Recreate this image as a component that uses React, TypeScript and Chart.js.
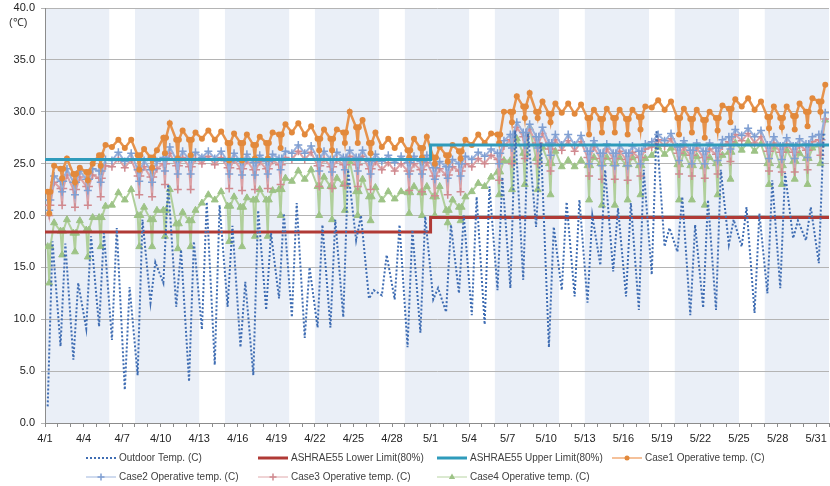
import { useEffect, useRef } from 'react';
import { Chart, registerables } from 'chart.js';
Chart.register(...registerables);

// ---- data (day 0 = 4/1) ----
const dateLabels = ['4/1','4/4','4/7','4/10','4/13','4/16','4/19','4/22','4/25','4/28','5/1','5/4','5/7','5/10','5/13','5/16','5/19','5/22','5/25','5/28','5/31'];
const totalDays = 61;
const weekendStarts = [5, 12, 19, 26, 33, 40, 47, 54];
const limitChangeDay = 30;
const lowerLimit = [18.4, 19.8];
const upperLimit = [25.4, 26.8];

const outMin = [1.6,7.4,6.1,9.1,9.3,8.0,3.2,4.6,11.6,13.5,11.2,4.0,9.0,5.6,11.2,7.3,4.6,10.9,12.0,10.2,8.2,9.2,9.2,10.2,17.6,12.0,12.3,11.9,7.3,8.7,11.9,10.7,12.5,10.4,9.5,12.8,13.0,13.8,18.9,7.3,12.8,12.2,11.6,15.2,14.6,12.2,10.9,14.3,17.0,16.5,10.4,11.1,10.9,17.2,17.0,10.6,12.5,13.0,17.8,17.6,15.4];
const outMax = [17.5,17.3,13.5,18.0,18.3,18.8,13.1,19.6,15.5,23.0,16.7,17.5,21.3,21.0,19.0,13.6,20.5,18.3,20.2,21.2,15.0,19.1,19.6,24.4,20.0,12.8,16.2,19.1,18.6,19.9,13.0,19.1,20.0,21.8,22.8,23.7,28.2,27.9,27.0,18.9,21.3,21.5,20.0,24.4,20.7,21.2,24.4,28.2,18.8,21.8,19.1,21.5,24.4,19.6,20.8,20.2,23.4,24.1,19.5,20.8,28.0];

const c1Lo = [22.3,24.5,24.0,24.2,25.8,26.6,26.5,25.8,25.6,27.5,27.3,27.3,27.4,27.3,27.0,27.0,26.8,27.0,27.8,28.0,27.8,27.4,27.4,28.0,28.5,27.0,26.6,26.5,26.3,26.5,25.6,25.8,26.2,26.8,27.0,27.8,30.0,30.5,30.0,29.8,29.9,29.8,29.4,29.3,29.4,29.3,29.5,30.4,30.2,29.4,29.3,29.2,29.4,30.3,30.5,30.2,29.5,29.4,29.6,30.0,31.0];
const c1Hi = [24.8,25.5,24.6,25.0,26.8,27.3,27.3,26.4,26.3,28.9,28.2,28.0,28.2,28.1,27.9,27.8,27.6,28.0,28.8,28.9,28.6,28.3,28.3,30.0,29.2,28.0,27.4,27.3,27.4,27.6,26.6,26.8,27.3,27.8,27.9,30.0,31.5,31.8,31.0,30.8,30.8,30.7,30.2,30.3,30.2,30.2,30.5,31.1,31.0,30.3,30.2,30.0,30.6,31.2,31.3,31.0,30.5,30.5,30.8,31.3,32.6];
const c1Dip = [20.2,23.6,23.2,23.4,24.8,null,null,24.4,24.6,26.0,25.5,25.8,null,null,25.3,25.3,25.5,25.5,26.5,null,null,26.3,26.3,27.0,27.0,26.0,null,null,25.6,25.6,25.0,25.2,25.5,null,null,27.0,29.0,29.4,29.4,29.0,null,null,27.8,28.0,28.0,27.8,28.3,null,null,27.8,28.0,27.5,28.2,29.0,null,null,28.4,28.5,28.3,28.6,30.0];

const c2Lo = [21.5,23.3,23.2,23.5,24.3,25.3,25.2,24.4,24.4,25.6,25.4,25.4,25.6,25.5,25.2,25.2,25.1,25.2,25.5,26.0,26.0,25.5,25.4,25.6,25.6,25.2,25.2,25.1,25.1,25.2,24.6,24.7,25.0,25.4,25.7,26.0,27.8,28.0,27.6,27.0,26.8,26.8,26.2,26.0,26.0,26.0,26.2,27.1,27.2,26.6,26.3,26.2,26.5,27.6,27.7,27.6,26.8,26.7,26.7,26.9,27.8];
const c2Hi = [23.8,24.5,24.3,24.5,25.4,26.1,26.0,25.3,25.2,26.6,26.2,26.1,26.2,26.2,26.0,25.9,25.8,25.9,26.2,26.8,26.7,26.2,26.1,26.3,26.3,25.9,25.8,25.7,25.7,25.8,25.2,25.4,25.7,26.1,26.4,27.2,29.0,28.8,28.5,27.8,27.8,27.7,27.2,26.9,26.8,26.7,26.9,27.8,27.9,27.2,27.0,27.0,27.3,28.3,28.4,28.2,27.6,27.5,27.4,27.6,29.9];
const c2Dip = [20.5,22.3,22.0,22.4,23.2,null,null,23.3,23.2,24.3,24.0,24.0,null,null,24.0,23.9,23.9,24.0,24.4,null,null,24.3,24.2,24.4,24.3,24.0,null,null,24.0,24.0,23.5,23.6,23.8,null,null,25.0,26.5,26.8,26.5,25.8,null,null,25.0,24.8,24.8,24.8,25.0,null,null,25.3,25.0,25.0,25.3,26.4,null,null,25.5,25.4,25.5,25.6,27.0];

const c3Lo = [21.0,22.6,22.5,22.8,23.6,24.7,24.6,23.8,23.7,25.0,24.8,24.7,25.0,24.9,24.6,24.5,24.4,24.5,24.9,25.4,25.4,24.8,24.7,24.9,24.9,24.5,24.4,24.3,24.3,24.4,23.8,23.9,24.3,24.7,25.0,25.4,27.3,27.6,27.0,26.4,26.3,26.2,25.6,25.5,25.5,25.4,25.6,26.6,26.7,26.0,25.8,25.6,25.9,27.1,27.2,27.0,26.2,26.1,26.1,26.3,27.3];
const c3Hi = [23.2,23.9,23.7,23.9,24.8,25.5,25.4,24.7,24.5,26.0,25.6,25.5,25.7,25.6,25.4,25.3,25.2,25.3,25.6,26.2,26.1,25.5,25.4,25.7,25.7,25.2,25.1,25.0,25.0,25.1,24.5,24.7,25.0,25.5,25.8,26.7,28.5,28.3,27.9,27.3,27.2,27.1,26.6,26.4,26.2,26.1,26.4,27.3,27.4,26.6,26.5,26.4,26.7,27.8,27.9,27.6,27.0,26.9,26.8,27.1,29.3];
const c3Dip = [20.0,21.0,20.8,21.0,21.8,null,null,22.0,21.8,23.0,22.5,22.5,null,null,22.6,22.4,22.5,22.6,23.0,null,null,22.8,22.6,22.9,22.8,22.5,null,null,22.4,22.3,21.9,22.0,22.3,null,null,23.4,25.0,25.5,25.0,24.3,null,null,23.8,23.5,23.5,23.4,23.8,null,null,24.0,23.8,23.6,24.0,25.2,null,null,24.3,24.2,24.2,24.4,25.8];

const c4Lo = [17.0,18.5,18.3,18.6,19.8,21.0,21.5,20.0,19.6,20.5,19.2,19.5,21.2,21.5,20.9,20.8,21.5,21.5,22.5,23.3,23.5,22.8,22.8,23.0,22.3,21.8,21.5,21.6,22.2,22.2,21.8,20.5,20.8,22.3,22.8,24.2,25.3,26.0,25.5,25.0,24.7,24.7,24.8,25.0,25.0,24.9,24.8,25.8,25.9,24.9,24.8,24.7,25.0,26.1,26.3,26.2,25.0,24.8,25.2,25.5,26.8];
const c4Hi = [19.3,19.6,19.5,19.8,20.9,22.2,22.5,20.8,20.5,22.5,20.3,20.5,22.0,22.3,21.8,21.7,22.5,22.4,23.6,24.3,24.4,23.7,23.6,25.2,23.5,22.7,22.3,22.3,22.8,22.8,22.8,21.5,21.8,23.1,23.7,25.3,27.4,28.5,26.6,26.2,25.3,25.3,25.6,25.6,25.6,25.6,25.5,26.6,26.5,26.0,25.7,25.6,25.8,27.0,27.1,26.9,26.6,26.3,26.0,26.5,29.2];
const c4Dip = [13.5,16.2,16.5,16.0,17.0,null,null,17.0,17.0,18.0,16.8,17.0,null,null,17.5,17.0,18.0,18.0,20.0,null,null,20.0,19.6,20.5,20.0,19.5,null,null,20.2,20.0,20.0,19.3,19.5,null,null,22.0,22.5,23.0,22.5,22.0,null,null,21.5,21.0,21.0,21.5,22.0,null,null,21.5,21.5,21.0,22.0,23.5,null,null,23.0,23.0,23.5,23.0,25.0];

// sample hours within each day
const HOUR_MIN = 5, HOUR_MAX = 14;
const HOUR_LO = 5, HOUR_DIP = 8, HOUR_BACK = 10, HOUR_HI = 17;

function outdoorPoints() {
  const pts: { x: number; y: number }[] = [];
  for (let d = 0; d < outMin.length; d++) {
    pts.push({ x: d + HOUR_MIN / 24, y: outMin[d] });
    pts.push({ x: d + HOUR_MAX / 24, y: outMax[d] });
  }
  return pts;
}
function casePoints(lo: number[], hi: number[], dip: (number | null)[]) {
  const pts: { x: number; y: number }[] = [];
  for (let d = 0; d < lo.length; d++) {
    pts.push({ x: d + HOUR_LO / 24, y: lo[d] });
    if (dip[d] != null) {
      pts.push({ x: d + HOUR_DIP / 24, y: dip[d] as number });
      pts.push({ x: d + HOUR_BACK / 24, y: lo[d] });
    }
    pts.push({ x: d + HOUR_HI / 24, y: hi[d] });
  }
  return pts;
}
function limitPoints(vals: number[]) {
  return [
    { x: 0, y: vals[0] },
    { x: limitChangeDay, y: vals[0] },
    { x: limitChangeDay, y: vals[1] },
    { x: totalDays, y: vals[1] },
  ];
}

const FONT = '"Liberation Sans", Arial, sans-serif';

function drawMarker(ctx: CanvasRenderingContext2D, style: string, x: number, y: number, r: number, color: string) {
  ctx.save();
  ctx.fillStyle = color;
  ctx.strokeStyle = color;
  ctx.lineWidth = 1.5;
  ctx.beginPath();
  if (style === 'circle') {
    ctx.arc(x, y, r, 0, Math.PI * 2);
    ctx.fill();
  } else if (style === 'cross') {
    ctx.moveTo(x - r, y); ctx.lineTo(x + r, y);
    ctx.moveTo(x, y - r); ctx.lineTo(x, y + r);
    ctx.stroke();
  } else if (style === 'triangle') {
    ctx.moveTo(x, y - r);
    ctx.lineTo(x + r * 0.9, y + r * 0.6);
    ctx.lineTo(x - r * 0.9, y + r * 0.6);
    ctx.closePath();
    ctx.fill();
  }
  ctx.restore();
}

const shadePlugin = {
  id: 'weekdayShade',
  beforeDraw(chart: any) {
    const { ctx, chartArea: a, scales } = chart;
    const x = scales.x;
    ctx.save();
    ctx.fillStyle = '#eaeff7';
    let start = 0;
    for (const w of [...weekendStarts, totalDays]) {
      const x0 = x.getPixelForValue(start);
      const x1 = x.getPixelForValue(Math.min(w, totalDays));
      if (x1 > x0) ctx.fillRect(x0, a.top, x1 - x0, a.bottom - a.top);
      start = w + 2;
    }
    ctx.restore();
  },
};

const legendPlugin = {
  id: 'gridLegend',
  afterDraw(chart: any) {
    const { ctx } = chart;
    const cols = [86, 258, 437, 612];
    const rows = [458, 477];
    ctx.save();
    // y-axis unit
    ctx.font = `11px ${FONT}`;
    ctx.fillStyle = '#333';
    ctx.textBaseline = 'middle';
    ctx.textAlign = 'left';
    ctx.fillText('(\u2103)', 9, 23);

    chart.data.datasets.forEach((ds: any, i: number) => {
      const row = i < 4 ? 0 : 1;
      const col = i < 4 ? i : i - 4;
      const x = cols[col];
      const y = rows[row];
      ctx.save();
      ctx.strokeStyle = ds.legendColor || ds.borderColor;
      ctx.lineWidth = ds.legendLineWidth;
      ctx.setLineDash(ds.borderDash || []);
      ctx.beginPath();
      ctx.moveTo(x, y);
      ctx.lineTo(x + 30, y);
      ctx.stroke();
      ctx.restore();
      if (ds.pointRadius > 0) drawMarker(ctx, ds.pointStyle, x + 15, y, ds.pointStyle === 'circle' ? 2.5 : 3.5, ds.pointBorderColor);
      ctx.fillStyle = '#404040';
      ctx.font = `10px ${FONT}`;
      ctx.fillText(ds.label, x + 33, y);
    });
    ctx.restore();
  },
};

export default function App() {
  const ref = useRef<HTMLCanvasElement | null>(null);
  useEffect(() => {
    if (!ref.current) return;
    const datasets: any[] = [
      {
        label: 'Outdoor Temp. (C)', data: outdoorPoints(),
        borderColor: '#3f6db3', borderWidth: 2, borderDash: [2, 2], legendLineWidth: 2,
        pointRadius: 0,
      },
      {
        label: 'ASHRAE55 Lower Limit(80%)', data: limitPoints(lowerLimit),
        borderColor: '#b03a36', borderWidth: 3, legendLineWidth: 3, pointRadius: 0,
      },
      {
        label: 'ASHRAE55 Upper Limit(80%)', data: limitPoints(upperLimit),
        borderColor: '#2f9bbb', borderWidth: 3, legendLineWidth: 3, pointRadius: 0,
      },
      {
        label: 'Case1 Operative temp. (C)', data: casePoints(c1Lo, c1Hi, c1Dip),
        borderColor: '#e6934d', legendColor: '#f2ad78', borderWidth: 2.5, legendLineWidth: 1.5,
        pointStyle: 'circle', pointRadius: 3, pointBackgroundColor: '#e2893c', pointBorderColor: '#e2893c', pointBorderWidth: 0,
      },
      {
        label: 'Case2 Operative temp. (C)', data: casePoints(c2Lo, c2Hi, c2Dip),
        borderColor: '#98b0db', legendColor: '#9fb6de', borderWidth: 2, legendLineWidth: 1,
        pointStyle: 'cross', pointRadius: 4, pointBorderColor: '#7f9fd2', pointBorderWidth: 1.5,
      },
      {
        label: 'Case3 Operative temp. (C)', data: casePoints(c3Lo, c3Hi, c3Dip),
        borderColor: '#dca1a5', legendColor: '#e0a8ab', borderWidth: 2, legendLineWidth: 1,
        pointStyle: 'cross', pointRadius: 4, pointBorderColor: '#d08a90', pointBorderWidth: 1.5,
      },
      {
        label: 'Case4 Operative temp. (C)', data: casePoints(c4Lo, c4Hi, c4Dip),
        borderColor: '#b0cf9b', legendColor: '#b7d4a2', borderWidth: 2, legendLineWidth: 1,
        pointStyle: 'triangle', pointRadius: 4, pointBackgroundColor: '#9dc386', pointBorderColor: '#9dc386', pointBorderWidth: 1,
      },
    ];
    const chart = new Chart(ref.current, {
      type: 'line',
      data: { datasets },
      options: {
        animation: false,
        responsive: false,
        devicePixelRatio: 1,
        layout: { autoPadding: false, padding: { top: 8, right: 1, left: 0, bottom: 0 } },
        plugins: { legend: { display: false }, tooltip: { enabled: false } },
        elements: { line: { tension: 0 } },
        scales: {
          x: {
            type: 'linear', min: 0, max: totalDays,
            afterFit: (s: any) => { s.height = 63; s.paddingLeft = 0; s.paddingRight = 0; },
            grid: { drawOnChartArea: false, drawTicks: true, tickLength: 4, color: '#8c8c8c' },
            border: { display: true, color: '#8c8c8c' },
            ticks: {
              stepSize: 1, autoSkip: false, maxRotation: 0, minRotation: 0, padding: 5,
              color: '#222', font: { family: FONT, size: 11 },
              callback: (v: any) => (v % 3 === 0 && dateLabels[v / 3]) ? dateLabels[v / 3] : '',
            },
          },
          y: {
            min: 0, max: 40,
            afterFit: (s: any) => { s.width = 45; s.paddingTop = 0; s.paddingBottom = 0; },
            grid: { color: '#b4b4b4', tickLength: 4 },
            border: { display: true, color: '#8c8c8c' },
            ticks: {
              stepSize: 5, padding: 6, color: '#222', font: { family: FONT, size: 11 },
              callback: (v: any) => Number(v).toFixed(1),
            },
          },
        },
      },
      plugins: [shadePlugin, legendPlugin],
    } as any);
    return () => chart.destroy();
  }, []);
  return (
    <div style={{ position: 'fixed', left: 0, top: 0, width: 830, height: 486, background: '#fff' }}>
      <canvas ref={ref} width={830} height={486} style={{ width: 830, height: 486, display: 'block' }} />
    </div>
  );
}
